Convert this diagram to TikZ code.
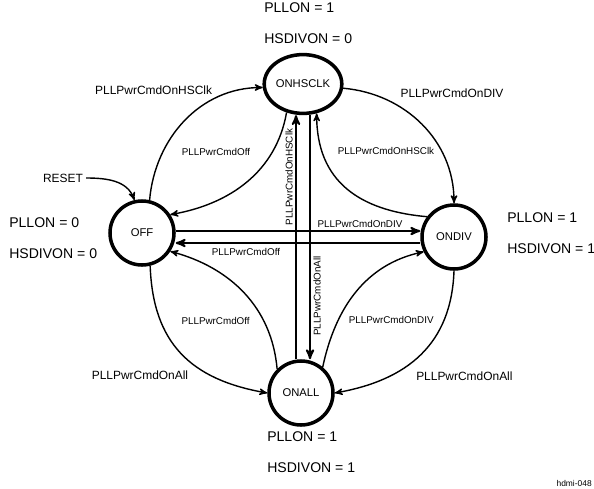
\documentclass[tikz,border=0pt]{standalone}
\usepackage{fontspec}
\setmainfont{Liberation Sans}
\usetikzlibrary{%
  arrows,%
  shapes% wg. ellipse
}

\begin{document}
\begin{tikzpicture}
[>=stealth',
state/.style={circle, draw, line width=2.5pt, inner sep=0pt, minimum size=16mm, font=\fontsize{8}{9}\selectfont},
trans/.style={->, line width=1pt},
link/.style={->, line width=1.4pt},
outer/.style={inner sep=0pt, font=\fontsize{8.5}{10}\selectfont},
inner/.style={inner sep=0pt, font=\fontsize{7}{8}\selectfont},
info/.style={anchor=west, inner sep=0pt, font=\fontsize{10}{12}\selectfont}]

\useasboundingbox (0,0) rectangle (14.85,12.2);

% states
\node[state] (off) at (3.55,6.375) {OFF};
\node[state, ellipse, minimum width=19.4mm, minimum height=14.7mm] (onhsclk) at (7.575,10.1) {ONHSCLK};
\node[state] (ondiv) at (11.35,6.275) {ONDIV};
\node[state] (onall) at (7.525,2.375) {ONALL};

% PLLON / HSDIVON per state
\node[info] (pllon1) at (6.6,12.0) {PLLON = 1};
\node[info] (hsdiv1) at ([yshift=-7.7mm]pllon1.west) {HSDIVON = 0};
\node[info] (pllon0) at (0.225,6.625) {PLLON = 0};
\node[info] (hsdiv0) at ([yshift=-7.7mm]pllon0.west) {HSDIVON = 0};
\node[info] (pllon2) at (12.675,6.75) {PLLON = 1};
\node[info] (hsdiv2) at ([yshift=-7.7mm]pllon2.west) {HSDIVON = 1};
\node[info] (pllon3) at (6.675,1.275) {PLLON = 1};
\node[info] (hsdiv3) at ([yshift=-7.7mm]pllon3.west) {HSDIVON = 1};

% reset
\node[inner sep=2pt, font=\fontsize{8.5}{10}\selectfont] (reset) at (1.575,7.75) {RESET};
\draw[trans] (reset.east) to[out=0,in=110] (off.103);

% curved transitions
\draw[trans] (off.77) to[out=85,in=180] (onhsclk.185);
\draw[trans] (onhsclk.240) to[out=260,in=10] (off.33);
\draw[trans] (onhsclk.354) to[out=-5,in=90] (ondiv.90);
\draw[trans] (ondiv.143) to[out=175,in=270,looseness=1.15] (onhsclk.295);
\draw[trans] (off.284) to[out=272,in=170,looseness=1.15] (onall.180);
\draw[trans] (onall.135) to[out=95,in=-15] (off.327);
\draw[trans] (ondiv.270) to[out=268,in=10,looseness=1.1] (onall.0);
\draw[trans] (onall.50) to[out=78,in=192] (ondiv.206);

\node[outer] (t1) at (3.84,9.94) {PLLPwrCmdOnHSClk};
\node[inner] (t2) at (5.4,8.4) {PLLPwrCmdOff};
\node[outer] (t3) at (11.3,9.875) {PLLPwrCmdOnDIV};
\node[inner] (t4) at (9.65,8.425) {PLLPwrCmdOnHSClk};
\node[outer] (t5) at (3.5,2.825) {PLLPwrCmdOnAll};
\node[inner] (t6) at (5.39,4.175) {PLLPwrCmdOff};
\node[outer] (t7) at (11.61,2.79) {PLLPwrCmdOnAll};
\node[inner] (t8) at (9.78,4.19) {PLLPwrCmdOnDIV};

% straight transitions
\coordinate (colL) at (7.4,0);
\coordinate (colR) at (7.75,0);
\coordinate (rowA) at (0,6.425);
\coordinate (rowB) at (0,6.125);
\draw[link] (onall.north -| colL) -- (onhsclk.south -| colL);
\draw[link] (onhsclk.south -| colR) -- (onall.north -| colR);
\draw[link] (off.east |- rowA) -- (ondiv.west |- rowA);
\draw[link] (ondiv.west |- rowB) -- (off.east |- rowB);

\node[inner] (t9) at (9.0,6.6) {PLLPwrCmdOnDIV};
\node[inner] (t10) at (6.15,5.9125) {PLLPwrCmdOff};
\node[inner, rotate=90] (t11) at (7.225,7.775) {PLLPwrCmdOnHSClk};
\node[inner, rotate=90] (t12) at (7.925,4.8) {PLLPwrCmdOnAll};

\node[anchor=east, inner sep=0pt, font=\fontsize{6}{7}\selectfont] (fig) at (14.8,0.125) {hdmi-048};

\end{tikzpicture}
\end{document}
